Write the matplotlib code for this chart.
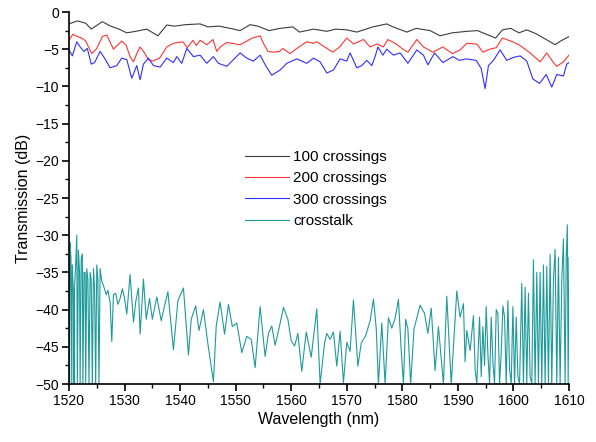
import matplotlib
matplotlib.use("Agg")
import matplotlib.pyplot as plt
from matplotlib.ticker import MultipleLocator

plt.rcParams['font.family'] = ['Liberation Sans', 'DejaVu Sans']

# ---- data ----
black_x = [1520, 1521.5, 1523, 1524, 1526, 1527.5, 1529, 1530.4, 1532, 1534, 1536, 1537.6, 1539, 1541,
           1543.6, 1545, 1547, 1549, 1550.8, 1552.6, 1554, 1556, 1558, 1560.3, 1561.5, 1564, 1566.4, 1568,
           1570, 1571.8, 1574.7, 1577.2, 1578, 1580.8, 1582.5, 1585, 1586.8, 1589, 1591.6, 1593.5, 1595.8,
           1596.8, 1598, 1599.5, 1601, 1602.4, 1604, 1606.6, 1607.5, 1608.5, 1610]
black_y = [-1.6, -1.2, -1.5, -2.3, -1.3, -1.9, -2.3, -2.8, -2.6, -2.3, -3.2, -1.75, -1.9, -1.7,
           -1.6, -2.0, -1.9, -2.2, -2.5, -1.7, -1.9, -2.5, -2.2, -2.0, -2.7, -2.3, -2.6, -2.3,
           -2.4, -2.7, -2.0, -1.6, -1.9, -2.7, -2.2, -2.5, -3.2, -2.8, -2.6, -2.5, -3.2,
           -3.5, -2.4, -2.2, -2.8, -2.4, -2.9, -4.0, -4.4, -3.9, -3.3]

red_x = [1520, 1520.7, 1521.5, 1522.3, 1523, 1524.1, 1525, 1526, 1526.8, 1528, 1529.5, 1530.3, 1531,
         1531.6, 1532.2, 1532.8, 1533.5, 1534.3, 1535.1, 1536.3, 1537.6, 1538.8, 1540.5, 1541.3, 1542.3,
         1542.9, 1543.6, 1544.8, 1545.9, 1546.6, 1547.2, 1548.4, 1550.8, 1553, 1554.4, 1555, 1555.8,
         1556.8, 1557.9, 1558.5, 1559.8, 1561, 1562.8, 1564, 1564.6, 1565.8, 1567.5, 1568.7, 1570,
         1571.2, 1573, 1574.2, 1575.4, 1576.6, 1577.4, 1578.9, 1580.1, 1581, 1582.6, 1583.8, 1585.5,
         1587.3, 1589, 1590.4, 1591.6, 1593.4, 1594.5, 1595.7, 1596.9, 1598, 1599.5, 1601, 1603,
         1604.8, 1606, 1607.2, 1607.8, 1609, 1610]
red_y = [-3.8, -3.0, -3.3, -3.5, -3.9, -5.6, -4.9, -3.3, -3.1, -5.0, -3.9, -4.5, -6.0,
         -6.7, -5.6, -4.7, -5.4, -6.4, -6.6, -6.2, -4.7, -4.2, -4.0, -4.8, -3.8,
         -4.5, -3.8, -4.4, -3.7, -5.3, -4.7, -4.1, -4.4, -3.5, -3.2, -4.2, -5.3,
         -5.4, -5.3, -4.9, -5.6, -4.9, -4.0, -4.2, -4.0, -4.6, -5.4, -4.7, -3.5,
         -4.3, -3.7, -4.7, -4.3, -4.7, -3.7, -4.3, -5.0, -5.4, -3.7, -4.7, -5.4,
         -4.7, -5.6, -5.1, -4.2, -4.3, -5.4, -5.0, -4.8, -3.5, -3.9, -4.4, -5.5,
         -6.7, -5.5, -6.8, -7.3, -6.7, -5.8]

blue_x = [1520, 1520.6, 1521.4, 1522, 1522.7, 1523.3, 1524, 1524.6, 1525.6, 1526.4, 1527.4, 1528.6,
          1529.5, 1530.4, 1531.3, 1532.2, 1532.8, 1533.4, 1534.3, 1535.2, 1536.4, 1537.6, 1538.8,
          1539.4, 1540.3, 1541.2, 1542.4, 1543.6, 1544.8, 1546, 1546.9, 1548.4, 1550.8, 1552, 1553.2,
          1554.4, 1555.4, 1556.5, 1558, 1559.2, 1561, 1562.8, 1564, 1565.2, 1566.4, 1567.6, 1568.8,
          1570, 1570.6, 1571.8, 1572.7, 1573.6, 1574.5, 1575.1, 1575.6, 1576.5, 1577.2, 1578.4,
          1579.6, 1581, 1582.6, 1583.8, 1584.6, 1585.8, 1587.3, 1589.1, 1590.3, 1591.5, 1593.3,
          1594.2, 1594.9, 1595.5, 1596.4, 1597.6, 1598.8, 1600, 1601.2, 1602.4, 1603.5, 1604.7,
          1605.9, 1606.9, 1607.8, 1609, 1609.6, 1610]
blue_y = [-5.1, -5.9, -4.0, -4.7, -5.3, -4.9, -7.0, -6.8, -5.3, -6.2, -7.5, -7.2,
          -6.2, -6.4, -8.9, -7.2, -9.1, -7.0, -6.2, -7.2, -7.4, -6.2, -6.8,
          -6.0, -6.9, -4.9, -6.0, -5.8, -6.9, -6.0, -6.9, -7.3, -5.5, -6.2, -6.6,
          -5.8, -7.2, -8.5, -7.8, -6.9, -6.3, -6.9, -6.2, -6.7, -8.2, -7.8, -6.3,
          -6.6, -5.5, -7.5, -7.2, -6.5, -7.2, -6.0, -4.7, -5.8, -5.0, -5.8,
          -5.5, -6.9, -5.1, -5.8, -7.1, -5.5, -6.8, -6.0, -6.5, -6.3, -6.5,
          -7.6, -10.3, -7.2, -6.5, -5.1, -6.5, -6.1, -5.9, -6.6, -9.0, -9.6,
          -8.4, -10.1, -8.4, -8.6, -7.0, -6.8]

xt_x = [1520.0, 1520.1, 1520.2, 1520.35, 1520.5, 1520.6, 1520.8, 1520.9, 1521.0, 1521.2, 1521.4,
        1521.5, 1521.7, 1521.9, 1522.0, 1522.2, 1522.4, 1522.5, 1522.7, 1522.9, 1523.0, 1523.2,
        1523.4, 1523.6, 1523.8, 1524.0, 1524.2, 1524.4, 1524.6, 1524.8, 1525.0, 1525.2, 1525.4,
        1525.6, 1525.9, 1526.3, 1526.7, 1527.0, 1527.4, 1527.7, 1528.0, 1528.4, 1528.8, 1529.2,
        1529.6, 1530.0, 1530.4, 1531.0, 1531.6, 1532.0, 1532.5, 1532.8, 1533.4, 1533.9, 1534.5,
        1535.0, 1535.8, 1536.6, 1537.2, 1537.8, 1538.8, 1539.6, 1540.6, 1541.5, 1542.0, 1542.8,
        1543.4, 1544.2, 1545.0, 1546.0, 1546.5, 1547.2, 1548.0, 1548.7, 1549.4, 1550.2, 1551.1,
        1552.0, 1552.8, 1553.5, 1554.4, 1555.3, 1555.9, 1556.5, 1557.1, 1557.9, 1558.6, 1559.4,
        1560.0, 1560.6, 1561.2, 1561.9, 1562.7, 1563.6, 1564.6, 1565.2, 1566.0, 1566.4, 1567.0,
        1567.6, 1568.2, 1568.8, 1569.4, 1570.0, 1570.6, 1571.2, 1572.0, 1572.6, 1573.4, 1574.2,
        1574.8, 1575.3, 1575.7, 1576.3, 1576.9, 1577.5, 1578.1, 1578.7, 1579.3, 1579.8, 1580.2,
        1580.6, 1581.0, 1581.5, 1582.1, 1583.2, 1584.0, 1584.6, 1585.2, 1585.9, 1586.5, 1587.4,
        1588.0, 1588.8, 1589.8, 1590.4, 1591.0, 1591.3, 1591.6, 1592.2, 1592.8, 1593.1, 1593.4,
        1593.9, 1594.2, 1594.5, 1594.8, 1595.1, 1595.4, 1595.7, 1596.0, 1596.3, 1596.6, 1596.9,
        1597.2, 1597.5, 1597.8, 1598.1, 1598.4, 1598.7, 1599.0, 1599.3, 1599.6, 1599.9, 1600.2,
        1600.5, 1600.8, 1601.1, 1601.5, 1601.8, 1602.1, 1602.4, 1602.7, 1603.0, 1603.3, 1603.6,
        1603.9, 1604.2, 1604.5, 1604.8, 1605.1, 1605.4, 1605.7, 1606.0, 1606.3, 1606.6, 1606.9,
        1607.2, 1607.5, 1607.8, 1608.1, 1608.4, 1608.7, 1609.0, 1609.3, 1609.5, 1609.7, 1609.85,
        1610.0]
xt_y = [-29.0, -50, -31, -33, -50, -34, -38, -50, -37, -34, -30,
        -50, -32, -35, -50, -33, -32.5, -50, -35, -35, -50, -34.5,
        -36, -50, -35, -36, -50, -34.5, -37, -50, -34, -36, -50,
        -34.5, -36.2, -37, -38, -37.4, -39, -44.3, -38, -37.8, -39.3, -38.5,
        -37.2, -38.5, -40.6, -35.3, -41.7, -39, -37.1, -43.3, -35.9, -41.3, -38.5,
        -41.3, -38.3, -41.5, -39.5, -37.6, -45.4, -38.8, -37.1, -46.1, -41.3, -39.5,
        -42.8, -40.0, -44.6, -49.7, -42.2, -39.0, -43.3, -39.3, -42.3, -41.8, -45.8,
        -43.6, -44.0, -47.8, -39.6, -46.3, -43.2, -42.2, -44.8, -42.2, -39.7, -41.3,
        -44.2, -44.9, -43.2, -48.3, -43.0, -46.4, -39.9, -50, -44.5, -43.2, -44.0,
        -43.0, -47.6, -42.9, -49.8, -44.4, -45.6, -38.7, -47.6, -44.5, -43.5, -41.5,
        -38.6, -42.5, -50, -41.8, -50, -41.1, -42.5, -41.2, -38.6, -45.5, -50,
        -41.3, -42.6, -50, -42.6, -39.4, -40.5, -43.2, -39.8, -48.2, -42.3, -50,
        -38.2, -50, -37.5, -41.0, -39.2, -47.0, -42.8, -45.5, -40.8, -48.0, -50,
        -41.0, -49.0, -42.3, -47.5, -39.6, -46.0, -50, -41.0, -47.0, -50, -40.0,
        -40.5, -50, -45.8, -39.5, -41.0, -50, -38.8, -48.0, -50, -39.6, -50,
        -41.0, -49.0, -50, -36.5, -50, -37.0, -50, -37.8, -49.0, -50, -33.3,
        -50, -35.0, -50, -35.0, -50, -34.0, -50, -34.2, -50, -32.6, -50,
        -36.0, -31.9, -50, -33.0, -50, -36.0, -30.5, -50, -33.0, -28.6, -50,
        -33.0]

labels = ["100 crossings", "200 crossings", "300 crossings", "crosstalk"]
colors = ["#3c3c3c", "#ff3333", "#2e2eff", "#1f9a9a"]

fig = plt.figure(figsize=(5.96, 4.42), dpi=100)
ax = fig.add_axes([69/596, 1-384/442, 500/596, 372/442])

ax.plot(black_x, black_y, color=colors[0], lw=0.8, label=labels[0], solid_joinstyle='round')
ax.plot(red_x, red_y, color=colors[1], lw=0.8, label=labels[1], solid_joinstyle='round')
ax.plot(blue_x, blue_y, color=colors[2], lw=0.8, label=labels[2], solid_joinstyle='round')
ax.plot(xt_x, xt_y, color=colors[3], lw=0.8, label=labels[3], solid_joinstyle='round')

ax.set_xlim(1520, 1610)
ax.set_ylim(-50, 0)
ax.xaxis.set_major_locator(MultipleLocator(10))
ax.xaxis.set_minor_locator(MultipleLocator(5))
ax.yaxis.set_major_locator(MultipleLocator(5))
ax.yaxis.set_minor_locator(MultipleLocator(2.5))
ax.spines['top'].set_visible(False)
ax.spines['right'].set_visible(False)
for s in ('left', 'bottom'):
    ax.spines[s].set_linewidth(1.2)
ax.tick_params(which='major', direction='out', length=5, width=1.2, labelsize=10, pad=2)
ax.tick_params(which='minor', direction='out', length=3, width=1.0)

ax.set_xlabel("Wavelength (nm)", fontsize=11.5, labelpad=3)
ax.set_ylabel("Transmission (dB)", fontsize=11.5, labelpad=3)

leg = ax.legend(loc='upper left', bbox_to_anchor=((245-69)/500, (384-150)/372), frameon=False,
                fontsize=11, handlelength=2.9, handletextpad=0.25, labelspacing=0.48,
                borderaxespad=0, borderpad=0)

fig.savefig("out.png", dpi=100)
